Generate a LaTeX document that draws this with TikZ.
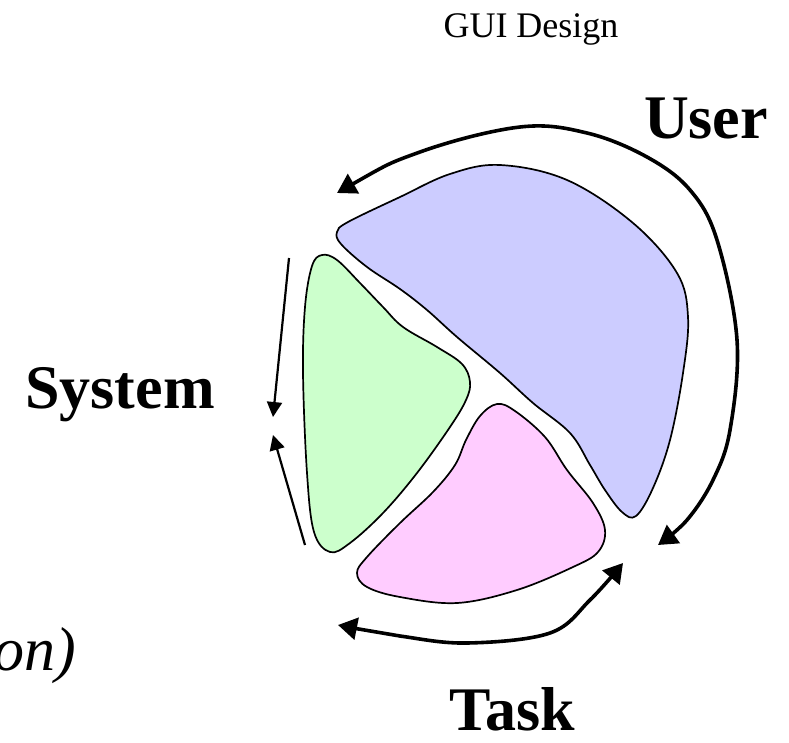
\documentclass[tikz,border=0pt]{standalone}
\usepackage{fontspec}
\setmainfont{Liberation Serif}
\usetikzlibrary{arrows.meta,positioning}
\definecolor{userblue}{RGB}{204,204,255}
\definecolor{systemgreen}{RGB}{204,255,204}
\definecolor{taskpink}{RGB}{255,204,255}

\begin{document}
\begin{tikzpicture}[x=1pt,y=-1pt,
      blob/.style={
         draw=black,
         line width=1.7pt,
         line join=round
      },
      user blob/.style={blob, fill=userblue},
      system blob/.style={blob, fill=systemgreen},
      task blob/.style={blob, fill=taskpink},
      big label/.style={
         inner sep=0pt,
         font=\fontsize{62}{70}\selectfont\bfseries
      },
      big arrow/.style={
         line width=3.6pt,
         {Triangle[length=19pt,width=22pt]}-{Triangle[length=19pt,width=22pt]}
      },
      thin arrow/.style={
         line width=2.2pt,
         -{Triangle[length=15pt,width=15pt]}
      },
      point/.style={coordinate}
    ]
    \useasboundingbox (0,0) rectangle (789,742);
    % labels
    \node (title) [inner sep=0pt, anchor=base, font=\fontsize{36}{40}\selectfont] at (531,37) {GUI Design};
    \node (user) [big label, anchor=base] at (706,138) {User};
    \node (system) [big label, anchor=base east] at (215,408) {System};
    \node (task) [big label, anchor=base] at (512,730) {Task};
    \node (note) [inner sep=0pt, anchor=base east, font=\fontsize{62}{70}\selectfont\itshape] at (76,670) {on)};
    % the three parts
    \draw[user blob] plot[smooth cycle, tension=0.6] coordinates {
       (337,232) (348,222) (400,197) (450,174) (500,165) (567,180)
       (633,223) (677,273) (688,317) (683,373) (670,440) (653,488)
       (636,516) (622,512) (605,490) (590,465) (570,433) (533,403)
       (500,373) (457,337) (427,310) (400,289) (367,267) (341,244)};
    \draw[system blob] plot[smooth cycle, tension=0.6] coordinates {
       (322,255) (337,260) (360,283) (383,307) (403,327) (437,347)
       (462,364) (470,382) (466,400) (450,427) (417,473) (383,513)
       (350,543) (330,552) (314,532) (307,473) (303,373) (305,307)
       (312,266)};
    \draw[task blob] plot[smooth cycle, tension=0.6] coordinates {
       (497,404) (515,411) (545,437) (567,470) (593,503) (605,530)
       (598,552) (573,567) (517,590) (457,603) (400,597) (367,587)
       (357,573) (367,557) (400,523) (433,492) (455,465) (466,440)
       (480,416)};
    % arrows
    \node (ua) [point] at (337,193) {};
    \node (ub) [point] at (658,545) {};
    \node (ta) [point] at (338,625) {};
    \node (tb) [point] at (623,563) {};
    \node (sa) [point] at (289,258) {};
    \node (sb) [point] at (273,417) {};
    \node (sc) [point] at (305,545) {};
    \node (sd) [point] at (273,435) {};
    \draw[big arrow] plot[smooth, tension=0.6] coordinates {
       (ua) (420,152) (520,127) (587,133) (647,157) (690,190)
       (717,240) (737,340) (730,430) (713,480) (687,520) (ub)};
    \draw[big arrow] plot[smooth, tension=0.6] coordinates {
       (ta) (400,636) (467,643) (550,633) (590,600) (tb)};
    \draw[thin arrow] (sa) -- (sb);
    \draw[thin arrow] (sc) -- (sd);
\end{tikzpicture}
\end{document}
